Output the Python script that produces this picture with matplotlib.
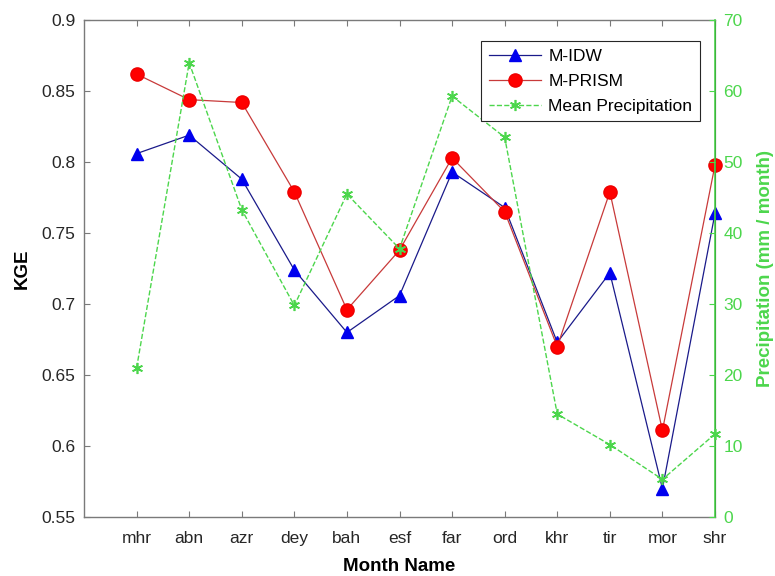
import matplotlib.pyplot as plt

plt.rcParams['font.family'] = ['Liberation Sans', 'DejaVu Sans']

months = ['mhr', 'abn', 'azr', 'dey', 'bah', 'esf', 'far', 'ord', 'khr', 'tir', 'mor', 'shr']
kge_idw = [0.806, 0.819, 0.788, 0.724, 0.680, 0.706, 0.793, 0.768, 0.673, 0.722, 0.570, 0.764]
kge_prism = [0.862, 0.844, 0.842, 0.779, 0.696, 0.738, 0.803, 0.765, 0.670, 0.779, 0.611, 0.798]
precip = [21.0, 64.0, 43.3, 29.8, 45.5, 37.8, 59.3, 53.5, 14.5, 10.2, 5.3, 11.7]

x = list(range(1, len(months) + 1))
green = '#4cd64c'
gray = '#7a7a7a'

fig = plt.figure(figsize=(7.75, 5.76), dpi=100)
ax = fig.add_axes([0.1084, 0.1024, 0.8142, 0.8626])

l1, = ax.plot(x, kge_idw, '-', color='#1a1a8a', lw=0.9, marker='^', ms=9,
              mfc='#0000ee', mec='#0000ee', label='M-IDW', clip_on=False)
l2, = ax.plot(x, kge_prism, '-', color='#c83a3a', lw=0.9, marker='o', ms=9.5,
              mfc='#ff0000', mec='#ee0000', label='M-PRISM', clip_on=False)
ax.set_xlim(0, 12)
ax.set_ylim(0.55, 0.9)
ax.set_yticks([0.55, 0.6, 0.65, 0.7, 0.75, 0.8, 0.85, 0.9])
ax.set_yticklabels(['0.55', '0.6', '0.65', '0.7', '0.75', '0.8', '0.85', '0.9'])
ax.set_xticks(x)
ax.set_xticklabels(months)
ax.set_ylabel('KGE', fontsize=13.5, fontweight='bold', labelpad=8)
ax.set_xlabel('Month Name', fontsize=13.5, fontweight='bold', labelpad=9)
ax.tick_params(labelsize=12.5, colors=gray, labelcolor='#262626', direction='in',
               length=4, top=True)
ax.tick_params(axis='x', pad=10)
ax.tick_params(axis='y', pad=6)
for s in ['left', 'bottom', 'top']:
    ax.spines[s].set_color(gray)
    ax.spines[s].set_linewidth(1.0)

ax2 = ax.twinx()
l3, = ax2.plot(x, precip, '--', color=green, lw=1.0, marker=(6, 2, 0), ms=8,
               mfc=green, mec=green, mew=1.2, label='Mean Precipitation', clip_on=False)
ax2.set_ylim(0, 70)
ax2.set_yticks(range(0, 71, 10))
ax2.set_ylabel('Precipitation (mm / month)', fontsize=13.5, fontweight='bold',
               color=green, labelpad=10)
ax2.tick_params(labelsize=12.5, colors=green, direction='in', length=4, pad=6)
ax2.spines['right'].set_color(green)
ax2.spines['right'].set_linewidth(1.2)
ax2.spines['left'].set_visible(False)
ax2.spines['top'].set_visible(False)
ax2.spines['bottom'].set_visible(False)

leg = ax2.legend(handles=[l1, l2, l3], loc='upper right', bbox_to_anchor=(0.99, 0.975),
                 fontsize=12.5, fancybox=False, edgecolor='#262626', framealpha=1,
                 handlelength=3.0, borderpad=0.45, labelspacing=0.55, handletextpad=0.4)
leg.get_frame().set_linewidth(0.8)

fig.savefig('out.png', dpi=100)
